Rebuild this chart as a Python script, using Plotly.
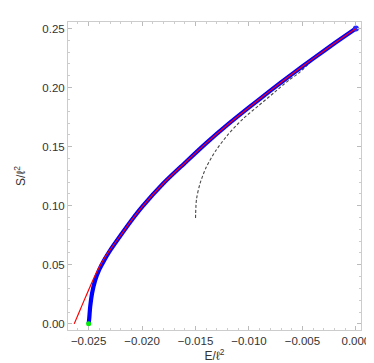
import plotly.graph_objects as go

# lower branch of the numerical data (blue)
E_blue_low = [-0.02500, -0.02495, -0.02485, -0.02468, -0.02439, -0.02400, -0.02350, -0.02300]
S_blue_low = [0.0000, 0.0040, 0.0148, 0.0258, 0.0368, 0.0460, 0.0546, 0.0620]

# lower part of the analytic curve (red)
E_red_low = [-0.02635, -0.02590, -0.02540, -0.02490, -0.02440, -0.02390, -0.02350, -0.02300]
S_red_low = [0.0000, 0.0096, 0.0203, 0.0308, 0.0410, 0.0497, 0.0560, 0.0626]

# shared upper part where red and blue coincide
E_main = [-0.0220, -0.0210, -0.0200, -0.0180, -0.0160, -0.0140, -0.0120, -0.0100,
          -0.0080, -0.0060, -0.0040, -0.0020, 0.0000]
S_main = [0.0750, 0.0875, 0.0990, 0.1190, 0.1362, 0.1530, 0.1686, 0.1832,
          0.1974, 0.2112, 0.2245, 0.2375, 0.2500]

# dashed approximation
E_dash = [-0.01500, -0.01491, -0.01457, -0.01399, -0.01312, -0.01197, -0.01053,
          -0.00909, -0.00765, -0.00621, -0.00534, -0.0040, -0.0020, 0.0000]
S_dash = [0.0896, 0.1053, 0.1190, 0.1327, 0.1464, 0.1601, 0.1738,
          0.1848, 0.1957, 0.2067, 0.2122, 0.2236, 0.2372, 0.2500]

# green end point
E_pt = [-0.02500]
S_pt = [0.0000]

fig = go.Figure()

fig.add_trace(go.Scatter(x=E_dash, y=S_dash, mode='lines',
                         line=dict(color='#4a4a4a', width=1.1, dash='3px,2px', shape='spline', smoothing=0.8)))
fig.add_trace(go.Scatter(x=E_blue_low + E_main, y=S_blue_low + S_main, mode='lines',
                         line=dict(color='#0000ff', width=4.2, shape='spline', smoothing=0.8)))
fig.add_trace(go.Scatter(x=E_main[-1:], y=S_main[-1:], mode='markers',
                         marker=dict(color='#2a2aff', size=6)))
fig.add_trace(go.Scatter(x=E_red_low + E_main, y=S_red_low + S_main, mode='lines',
                         line=dict(color='#ff0000', width=1.2, shape='spline', smoothing=0.8)))
fig.add_trace(go.Scatter(x=E_pt, y=S_pt, mode='markers',
                         marker=dict(color='#00ee00', size=5)))

axis_common = dict(showgrid=False, zeroline=False, showline=True, linecolor='#cccccc',
                   linewidth=1, mirror='allticks', ticks='inside', ticklen=4,
                   tickcolor='#bbbbbb', tickfont=dict(family='Liberation Sans', size=11.5, color='#333333'))

fig.update_layout(
    width=374, height=363,
    margin=dict(l=42, r=15, t=14, b=32),
    plot_bgcolor='white', paper_bgcolor='white',
    showlegend=False,
    xaxis=dict(range=[-0.02693, 0.00048], dtick=0.005, tick0=0, tickformat='.3f',
               minor=dict(ticks='inside', ticklen=2, dtick=0.001, tickcolor='#cccccc'),
               title=dict(text='E/ℓ<sup>2</sup>', standoff=4,
                          font=dict(family='Liberation Sans', size=12, color='#333333')),
               **axis_common),
    yaxis=dict(range=[-0.0052, 0.2555], dtick=0.05, tick0=0, tickformat='.2f',
               minor=dict(ticks='inside', ticklen=2, dtick=0.01, tickcolor='#cccccc'),
               title=dict(text='S/ℓ<sup>2</sup>', standoff=14,
                          font=dict(family='Liberation Sans', size=12, color='#333333')),
               **axis_common),
)

fig.write_html("out.html")
